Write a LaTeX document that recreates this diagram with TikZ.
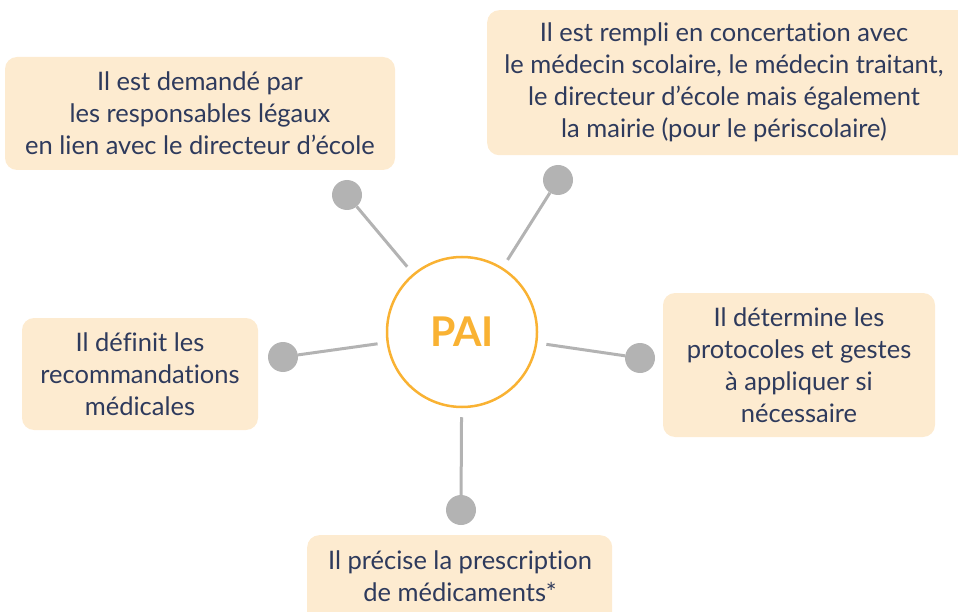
\documentclass[tikz,border=0pt]{standalone}
\usepackage{fontspec}
\setmainfont{Lato}[Ligatures={NoCommon}]
\definecolor{boxfill}{HTML}{FDEBD0}
\definecolor{navy}{HTML}{2E3A5C}
\definecolor{orng}{HTML}{F9B233}
\definecolor{gry}{HTML}{B3B3B3}
\begin{document}
\begin{tikzpicture}[x=1pt,y=-1pt,
  infobox/.style={rounded corners=12pt, fill=boxfill, draw=none, text=navy,
    align=center, inner sep=0pt, font=\fontsize{25.5}{32}\selectfont},
  infotext/.style={text=navy, align=center, inner sep=0pt, font=\fontsize{25.5}{32}\selectfont},
  dot/.style={circle, fill=gry, draw=none, minimum size=30pt, inner sep=0pt},
  link/.style={gry, line width=3pt, shorten >=9pt}]
\useasboundingbox (0,0) rectangle (958,612);
\node[infobox, minimum width=390pt, minimum height=113pt] (b1) at (200,113.5)
  {Il est demandé par\\les responsables légaux\\en lien avec le directeur d’école};
\node[infobox, minimum width=490pt, minimum height=145pt, anchor=north west] (b2) at (487,10) {};
\node[infotext] (t2) at (724,82)
  {Il est rempli en concertation avec\\le médecin scolaire, le médecin traitant,\\le directeur d’école mais également\\la mairie (pour le périscolaire)};
\node[infobox, minimum width=272pt, minimum height=144pt] (b3) at (799,365)
  {Il détermine les\\protocoles et gestes\\à appliquer si\\nécessaire};
\node[infobox, minimum width=236pt, minimum height=112pt] (b4) at (140,374)
  {Il définit les\\recommandations\\médicales};
\node[infobox, minimum width=305pt, minimum height=100pt, anchor=north west] (b5) at (307,535) {};
\node[infotext] (t5) at (460,576)
  {Il précise la prescription\\de médicaments*};
\node[circle, draw=orng, line width=2.5pt, fill=white, minimum size=150pt, inner sep=0pt,
  text=orng, font=\fontsize{41}{41}\selectfont\bfseries] (pai) at (462,332) {PAI};
\node[dot] (d1) at (347,195) {};
\node[dot] (d2) at (558,180) {};
\node[dot] (d3) at (283,357) {};
\node[dot] (d4) at (640,358) {};
\node[dot] (d5) at (461,510) {};
\draw[link] (d1) -- (pai);
\draw[link] (d2) -- (pai);
\draw[link] (d3) -- (pai);
\draw[link] (d4) -- (pai);
\draw[link] (d5) -- (pai);
\end{tikzpicture}
\end{document}
